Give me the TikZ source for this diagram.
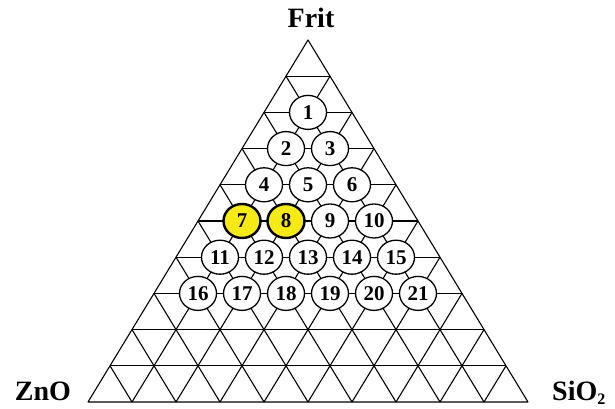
\documentclass[tikz,border=0pt]{standalone}
\usepackage{fontspec}
\setmainfont{Liberation Serif}
\usetikzlibrary{shapes.geometric}
\definecolor{hilite}{RGB}{246,234,22}

\begin{document}
\begin{tikzpicture}[x=1pt, y=1pt,
  comp/.style={ellipse, draw, inner sep=0pt, minimum width=37pt, minimum height=34pt,
               font=\fontsize{21}{21}\selectfont\bfseries},
  lab/.style={inner sep=0pt, font=\fontsize{28}{28}\selectfont\bfseries}]
  \useasboundingbox (0,0) rectangle (615,409);
  % ten steps on each side, rows 36.2 apart
  \draw[line width=1.1pt, line join=round] (88,7) -- (528,7) -- (308,369) -- cycle;
  \foreach \i in {1,...,9}{
    \draw[line width=1.1pt] (308-22*\i,369-36.2*\i) -- (308+22*\i,369-36.2*\i);
    \draw[line width=1.1pt] (88+44*\i,7) -- (308+22*\i,369-36.2*\i);
    \draw[line width=1.1pt] (88+44*\i,7) -- (88+22*\i,7+36.2*\i); }
  % the 21 mixtures, 7 and 8 picked out
  \foreach \r in {2,...,7}{
    \pgfmathtruncatemacro\last{\r-1}
    \foreach \j in {1,...,\last}{
      \pgfmathtruncatemacro\n{(\r-2)*(\r-1)/2+\j}
      \pgfmathtruncatemacro\pct{(\n==7||\n==8)*100}
      \pgfmathsetmacro\lw{(\n==7||\n==8)?2.4:1.3}
      \node[comp, fill=hilite!\pct!white, line width=\lw pt] (c\n)
        at ({308+22*(2*\j-\r)},{369-36.2*\r}) {\n}; } }
  \node[lab, anchor=base] (frit) at (311,381) {Frit};
  \node[lab, anchor=base] (zno) at (43,8) {ZnO};
  \node[lab, anchor=base west] (sio) at (552,8) {SiO\raisebox{-4pt}{\fontsize{16}{16}\selectfont 2}};
\end{tikzpicture}
\end{document}
